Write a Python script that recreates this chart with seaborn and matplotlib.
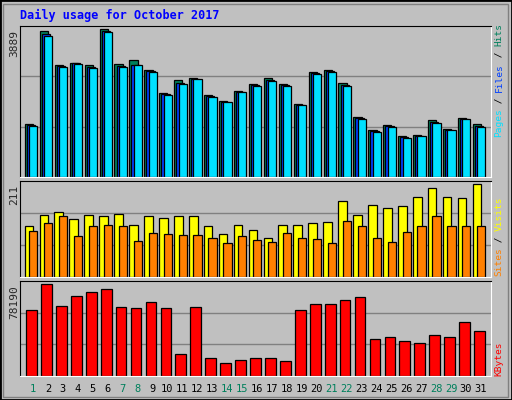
import numpy as np
import pandas as pd
import matplotlib
matplotlib.use("Agg")
import matplotlib.pyplot as plt
import seaborn as sns
from matplotlib.patches import Rectangle

# valeurs
days = list(range(1, 32))
hits = [1390, 3845, 2948, 3000, 2948, 3889, 2974, 3080, 2816, 2208, 2552, 2604, 2156, 1997, 2261, 2446,
        2604, 2446, 1918, 2772, 2816, 2472, 1575, 1232, 1364, 1073, 1100, 1496, 1258, 1549, 1390]
files = [1360, 3770, 2920, 2990, 2900, 3850, 2920, 2960, 2790, 2180, 2480, 2590, 2130, 1985, 2250, 2420,
         2560, 2420, 1905, 2740, 2790, 2430, 1545, 1200, 1335, 1045, 1085, 1460, 1245, 1535, 1345]
pages = [1337, 3713, 2895, 2974, 2868, 3819, 2895, 2948, 2763, 2156, 2446, 2578, 2103, 1971, 2235, 2393,
         2525, 2393, 1892, 2710, 2763, 2393, 1522, 1179, 1311, 1021, 1073, 1417, 1232, 1522, 1311]
visits = [115, 142, 147, 131, 142, 138, 144, 119, 140, 135, 140, 138, 117, 99, 119, 108,
          89, 119, 119, 124, 126, 172, 142, 163, 158, 161, 183, 202, 183, 181, 211]
sites = [105, 122, 138, 94, 115, 119, 115, 83, 101, 99, 96, 96, 89, 78, 94, 85,
         80, 101, 89, 87, 78, 128, 115, 89, 80, 103, 115, 138, 117, 117, 115]
kbytes = [55723, 78190, 59134, 67663, 71075, 73633, 58282, 57429, 62546, 57429, 19048, 58282, 15637, 11372,
          13931, 15637, 15637, 13078, 55723, 60841, 60841, 64252, 66811, 31842, 33548, 30136, 28430, 35254,
          33548, 45488, 38665]
weekend = [1, 7, 8, 14, 15, 21, 22, 28, 29]

C_HITS, C_FILES, C_PAGES = "#00805c", "#0040ff", "#00e0ff"
C_VISITS, C_SITES, C_KB = "#ffff00", "#ff8000", "#ff0000"
GREY = "#c0c0c0"
MONO = "DejaVu Sans Mono"

sns.set_style("white")
W, H = 512, 400
fig = plt.figure(figsize=(W / 100, H / 100), dpi=100)
fig.patch.set_facecolor(GREY)
fig.patches.append(Rectangle((0, 0), 1, 1, transform=fig.transFigure, fill=False, ec="black", lw=2))
fig.patches.append(Rectangle((3 / W, 3 / H), 1 - 7 / W, 1 - 7 / H, transform=fig.transFigure,
                             fill=False, ec="#808080", lw=1))

x = np.array(days, dtype=float)


def panel(top, bottom):
    ax = fig.add_axes([20 / W, 1 - bottom / H, 471 / W, (bottom - top) / H])
    ax.set_facecolor(GREY)
    for s in ax.spines.values():
        s.set_color("black")
    ax.spines["bottom"].set_color("white")
    ax.spines["right"].set_color("white")
    ax.set_xticks([])
    ax.set_yticks([])
    return ax


def bars(ax, xs, vals, color, width):
    df = pd.DataFrame({"x": xs, "v": vals})
    sns.barplot(data=df, x="x", y="v", native_scale=True, color=color, width=width,
                edgecolor="black", linewidth=0.9, saturation=1, ax=ax)
    ax.set_xlabel("")
    ax.set_ylabel("")
    ax.set_xticks([])
    ax.set_yticks([])


def grid(ax, ymax):
    ax.set_ylim(0, ymax)
    for f in (1 / 3, 2 / 3):
        ax.axhline(ymax * f, color="#808080", lw=1, zorder=0)


# panneau 1 : hits / files / pages
ax1 = panel(26, 177)
grid(ax1, 3976)
bars(ax1, x - 0.27, hits, C_HITS, 0.55)
bars(ax1, x - 0.13, files, C_FILES, 0.55)
bars(ax1, x + 0.02, pages, C_PAGES, 0.55)
ax1.set_xlim(0.13, 31.67)

# panneau 2 : visits / sites
ax2 = panel(181, 277)
grid(ax2, 218.6)
bars(ax2, x - 0.27, visits, C_VISITS, 0.58)
bars(ax2, x + 0.02, sites, C_SITES, 0.55)
ax2.set_xlim(0.13, 31.67)

# panneau 3 : kbytes
ax3 = panel(281, 376)
grid(ax3, 80749)
bars(ax3, x - 0.1, kbytes, C_KB, 0.72)
ax3.set_xlim(0.13, 31.67)

fig.text(20 / W, 1 - 15 / H, "Daily usage for October 2017", color="#0000ff",
         family=MONO, fontweight="bold", fontsize=8.5, va="center")

for lab, ypx in (("3889", 30), ("211", 185), ("78190", 285)):
    fig.text(14 / W, 1 - ypx / H, lab, rotation=90, family=MONO, fontsize=8, ha="center", va="top")

for d in days:
    xp = (20 + (d - 0.13) / (31.67 - 0.13) * 471) / W
    fig.text(xp, 1 - 389 / H, str(d), color=C_HITS if d in weekend else "black",
             family=MONO, fontsize=7.5, ha="center", va="center")

SIDE_FS = 6.8
ADV = SIDE_FS * 0.602 * 100 / 72


def side_label(parts, bottom_px):
    # texte vertical de droite, construit de bas en haut
    y = bottom_px
    for txt, col in parts:
        fig.text(499 / W, 1 - y / H, txt, rotation=90, color=col, family=MONO,
                 fontsize=SIDE_FS, ha="center", va="bottom")
        y -= len(txt) * ADV


side_label([("Pages", C_PAGES), (" / ", "black"), ("Files", C_FILES), (" / ", "black"), ("Hits", C_HITS)], 137)
side_label([("Sites", C_SITES), (" / ", "black"), ("Visits", C_VISITS)], 276)
side_label([("KBytes", C_KB)], 376)

fig.savefig("out.png", dpi=100, facecolor=GREY)
